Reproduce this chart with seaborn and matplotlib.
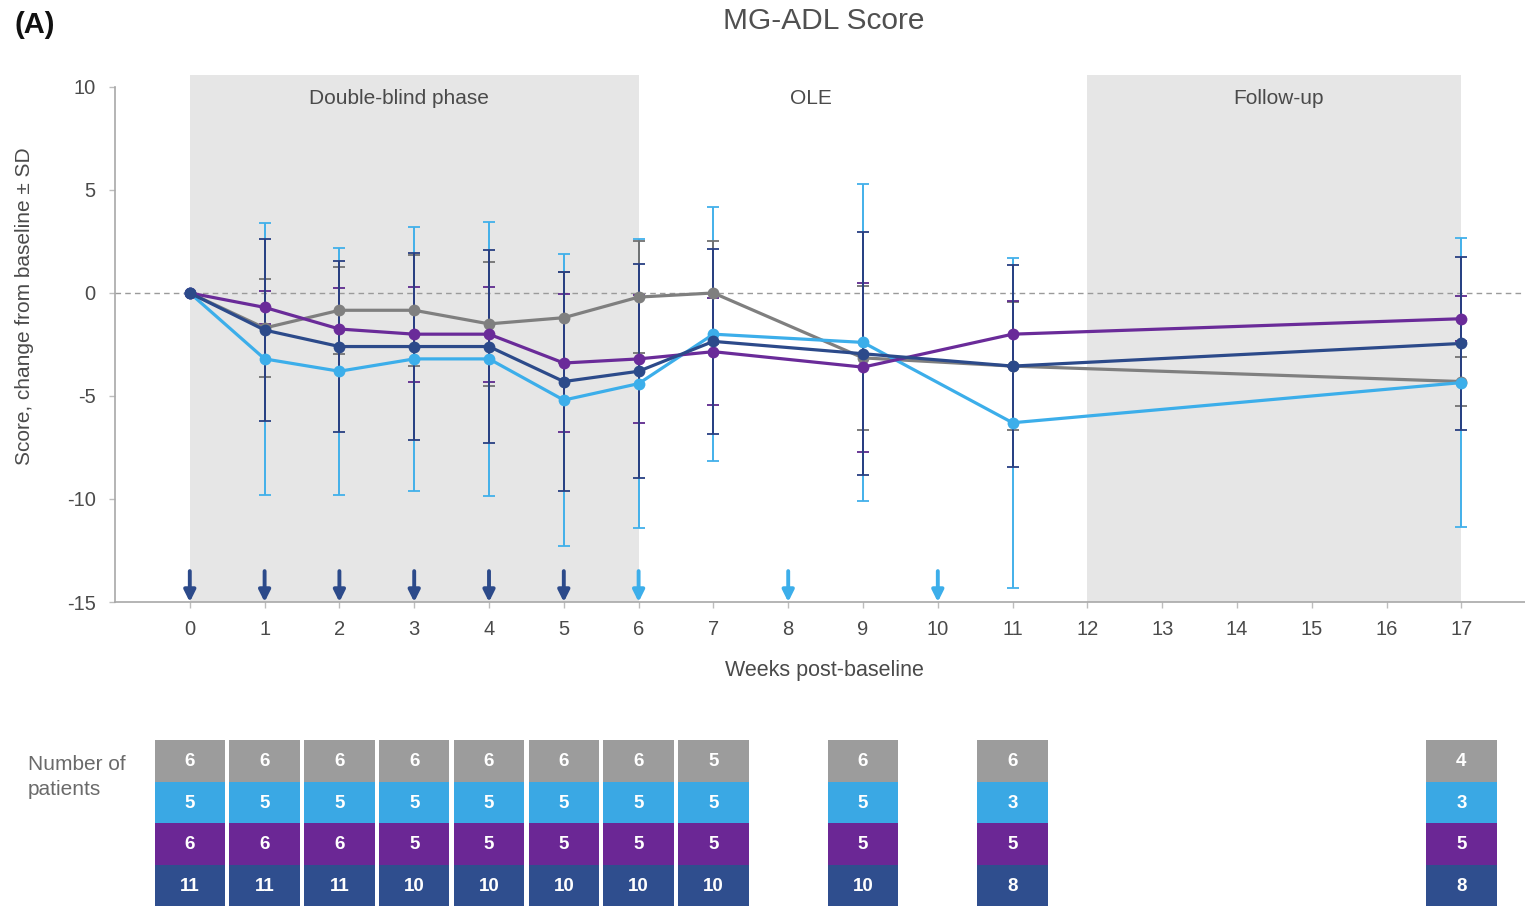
import numpy as np
import pandas as pd
import matplotlib
matplotlib.use("Agg")
import matplotlib.pyplot as plt
import seaborn as sns

# ---- data -------------------------------------------------------------
weeks = [0, 1, 2, 3, 4, 5, 6, 7, 9, 11, 17]
arms = ["Arm 1", "Arm 2", "Arm 3", "Arm 4"]

# mean change from baseline
mean_arm1 = [0, -1.7, -0.84, -0.84, -1.5, -1.2, -0.2, 0.0, -3.15, -3.55, -4.3]
mean_arm2 = [0, -3.2, -3.8, -3.2, -3.2, -5.2, -4.4, -2.0, -2.4, -6.3, -4.35]
mean_arm3 = [0, -0.7, -1.75, -2.0, -2.0, -3.4, -3.2, -2.85, -3.6, -2.0, -1.25]
mean_arm4 = [0, -1.8, -2.6, -2.6, -2.6, -4.3, -3.8, -2.35, -2.95, -3.55, -2.45]

# standard deviations
sd_arm1 = [0, 2.4, 2.1, 2.7, 3.0, 2.2, 2.7, 2.5, 3.5, 3.1, 1.2]
sd_arm2 = [0, 6.6, 6.0, 6.4, 6.65, 7.1, 7.0, 6.15, 7.7, 8.0, 7.0]
sd_arm3 = [0, 0.8, 2.0, 2.3, 2.3, 3.35, 3.1, 2.6, 4.1, 1.6, 1.1]
sd_arm4 = [0, 4.4, 4.15, 4.55, 4.7, 5.3, 5.2, 4.5, 5.9, 4.9, 4.2]

# number of patients per visit
n_arm1 = [6, 6, 6, 6, 6, 6, 6, 5, 6, 6, 4]
n_arm2 = [5, 5, 5, 5, 5, 5, 5, 5, 5, 3, 3]
n_arm3 = [6, 6, 6, 5, 5, 5, 5, 5, 5, 5, 5]
n_arm4 = [11, 11, 11, 10, 10, 10, 10, 10, 10, 8, 8]

# dosing visits
dose_weeks_blind = [0, 1, 2, 3, 4, 5]
dose_weeks_ole = [6, 8, 10]

x_ticks = list(range(0, 18))
y_ticks = [-15, -10, -5, 0, 5, 10]

phases = [("Double-blind phase", 0, 6, True), ("OLE", 6, 12, False), ("Follow-up", 12, 17, True)]

# ---- styling ------------------------------------------------------------
sns.set_theme(style="white")
plt.rcParams["font.family"] = ["Liberation Sans", "DejaVu Sans"]
plt.rcParams["axes.unicode_minus"] = False

line_colors = {"Arm 1": "#7f7f7f", "Arm 2": "#3caeea", "Arm 3": "#6a2b99", "Arm 4": "#2c4a8a"}
bar_colors = {"Arm 1": "#727272", "Arm 2": "#42b0ea", "Arm 3": "#5e2a8e", "Arm 4": "#283f82"}
cell_colors = {"Arm 1": "#9c9c9c", "Arm 2": "#3aa8e4", "Arm 3": "#6b2795", "Arm 4": "#2f4e8e"}
text_color = "#4a4a4a"

means = {"Arm 1": mean_arm1, "Arm 2": mean_arm2, "Arm 3": mean_arm3, "Arm 4": mean_arm4}
sds = {"Arm 1": sd_arm1, "Arm 2": sd_arm2, "Arm 3": sd_arm3, "Arm 4": sd_arm4}
counts = {"Arm 1": n_arm1, "Arm 2": n_arm2, "Arm 3": n_arm3, "Arm 4": n_arm4}

df = pd.DataFrame(
    [(a, w, m) for a in arms for w, m in zip(weeks, means[a])],
    columns=["arm", "week", "change"],
)

W, H = 1525, 906
fig = plt.figure(figsize=(W / 100, H / 100), dpi=100)
ax = fig.add_axes([115 / W, 1 - 602 / H, 1410 / W, 527 / H])
ax.set_xlim(-1, 17.85)
ax.set_ylim(-15, 10.58)

# study phase shading
for name, x0, x1, shaded in phases:
    if shaded:
        ax.axvspan(x0, x1, color="#e6e6e6", lw=0, zorder=0)

ax.text(2.8, 9.45, "Double-blind phase", ha="center", va="center", fontsize=15, color=text_color)
ax.text(8.3, 9.45, "OLE", ha="center", va="center", fontsize=15, color=text_color)
ax.text(14.55, 9.45, "Follow-up", ha="center", va="center", fontsize=15, color=text_color)

ax.axhline(0, ls=(0, (4, 3)), color="#9a9a9a", lw=1, zorder=1)

# SD error bars (baseline has none)
for a in ["Arm 2", "Arm 1", "Arm 3", "Arm 4"]:
    w = np.array(weeks)
    m = np.array(means[a])
    s = np.array(sds[a])
    keep = s > 0
    ax.errorbar(w[keep], m[keep], yerr=s[keep], fmt="none", ecolor=bar_colors[a],
                elinewidth=1.4, capsize=4.5, capthick=1.3, zorder=2)

sns.lineplot(data=df, x="week", y="change", hue="arm", hue_order=arms,
             palette=line_colors, marker="o", markersize=8.5, markeredgewidth=0,
             linewidth=2.3, errorbar=None, legend=False, ax=ax, zorder=3)

# dosing arrows
for wk in dose_weeks_blind:
    ax.annotate("", xy=(wk, -15), xytext=(wk, -13.5),
                arrowprops=dict(arrowstyle="-|>", color="#2c4a8a", lw=2.8,
                                mutation_scale=17, shrinkA=0, shrinkB=0), zorder=4)
for wk in dose_weeks_ole:
    ax.annotate("", xy=(wk, -15), xytext=(wk, -13.5),
                arrowprops=dict(arrowstyle="-|>", color="#3caeea", lw=2.8,
                                mutation_scale=17, shrinkA=0, shrinkB=0), zorder=4)

ax.set_xticks(x_ticks)
ax.set_yticks(y_ticks)
ax.set_yticklabels([str(t) for t in y_ticks])
ax.tick_params(axis="x", length=4, width=1, color="#bdbdbd", labelsize=14.5,
               labelcolor=text_color, pad=9, direction="out", bottom=True)
ax.tick_params(axis="y", length=4, width=1, color="#bdbdbd", labelsize=14.5,
               labelcolor=text_color, pad=10, direction="out", left=True)

for side in ["top", "right"]:
    ax.spines[side].set_visible(False)
ax.spines["left"].set_color("#a8a8a8")
ax.spines["bottom"].set_color("#a8a8a8")
ax.spines["left"].set_bounds(-15, 10)
ax.spines["left"].set_linewidth(1.2)
ax.spines["bottom"].set_linewidth(1.2)

ax.set_xlabel("Weeks post-baseline", fontsize=15.5, color=text_color)
ax.xaxis.set_label_coords((824 - 115) / 1410, (602 - 660) / 527)
ax.set_ylabel("Score, change from baseline \u00b1 SD", fontsize=15, color=text_color)
ax.yaxis.set_label_coords((34 - 115) / 1410, (602 - 306) / 527)

fig.text(824 / W, 1 - 21 / H, "MG-ADL Score", ha="center", va="center",
         fontsize=21.5, color="#505050")
fig.text(14 / W, 1 - 25 / H, "(A)", ha="left", va="center", fontsize=21,
         fontweight="bold", color="#111111")

# ---- patient numbers table ---------------------------------------------
tab = fig.add_axes([115 / W, 0, 1410 / W, 166 / H])
tab.set_xlim(-1, 17.85)
tab.set_ylim(0, 4)
tab.axis("off")
for row, a in enumerate(["Arm 4", "Arm 3", "Arm 2", "Arm 1"]):
    tab.bar(weeks, 1, bottom=row, width=0.94, color=cell_colors[a], linewidth=0)
    for wk, n in zip(weeks, counts[a]):
        tab.text(wk, row + 0.47, str(n), ha="center", va="center", color="white",
                 fontsize=13.5, fontweight="bold")

fig.text(28 / W, 1 - 777 / H, "Number of\npatients", ha="left", va="center",
         fontsize=15, color="#6a6a6a", linespacing=1.35)

fig.savefig("out.png", dpi=100)
